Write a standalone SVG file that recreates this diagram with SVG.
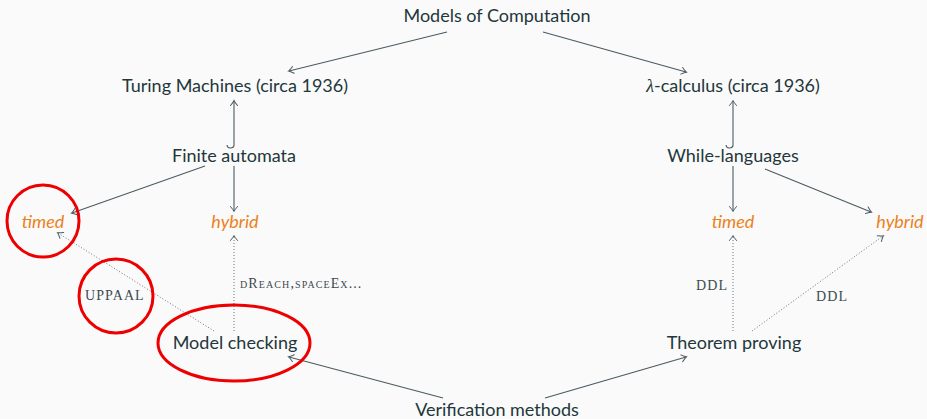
<svg xmlns="http://www.w3.org/2000/svg" width="927" height="419" viewBox="0 0 927 419">
<defs>
<marker id="to" viewBox="-6 -5 8 10" refX="0" refY="0" markerWidth="8" markerHeight="10" markerUnits="userSpaceOnUse" orient="auto">
<path d="M -4.5,-3.5 Q -1,-0.6 0.5,0 Q -1,0.6 -4.5,3.5" fill="none" stroke="#4b5b61" stroke-width="1" stroke-linecap="round"/>
</marker>
</defs>
<style>
.t{font-family:Lato,"Open Sans",sans-serif;font-size:18px;fill:#23373b;text-anchor:middle}
.o{font-family:Lato,"Open Sans",sans-serif;font-size:18px;fill:#eb811b;font-style:italic;text-anchor:middle}
.s{font-family:"Liberation Serif",serif;font-size:14px;fill:#3c4a50;font-variant:small-caps;letter-spacing:1.1px}
.m{font-family:"Liberation Serif",serif;font-style:italic}
.e{fill:none;stroke:#4b5b61;stroke-width:1.1;marker-end:url(#to)}
.d{fill:none;stroke:#6b777b;stroke-width:1;stroke-dasharray:1 2;marker-end:url(#to)}
.r{fill:none;stroke:#ee0000;stroke-width:3}
</style>
<rect width="927" height="419" fill="#fafafa"/>
<g id="connectors">
<line class="e" x1="447" y1="32" x2="289" y2="71"/>
<line class="e" x1="543" y1="32" x2="686" y2="72"/>
<path class="e" d="M 227,145 A 3.5,3.5 0 0 0 234,144 L 234,101"/>
<path class="e" d="M 726,145 A 3.5,3.5 0 0 0 733,144 L 733,101"/>
<line class="e" x1="205" y1="166" x2="72" y2="213"/>
<line class="e" x1="234" y1="166" x2="234" y2="211"/>
<line class="e" x1="733" y1="166" x2="733" y2="211"/>
<line class="e" x1="765" y1="169" x2="871" y2="212"/>
<line class="d" x1="214" y1="331" x2="58" y2="233"/>
<line class="d" x1="234" y1="331" x2="234" y2="236"/>
<line class="d" x1="733" y1="331" x2="733" y2="236"/>
<line class="d" x1="752" y1="331" x2="883" y2="236"/>
<line class="e" x1="443" y1="398" x2="289" y2="357"/>
<line class="e" x1="545" y1="398" x2="686" y2="357"/>
<text class="s" x="85" y="300">UPPAAL</text>
<text class="s" x="240" y="288">dReach,spaceEx...</text>
<text class="s" x="696" y="290">DDL</text>
<text class="s" x="816" y="301">DDL</text>
</g>
<g id="models"><text class="t" x="497" y="22">Models of Computation</text></g>
<g id="turing"><text class="t" x="235" y="92">Turing Machines (circa 1936)</text></g>
<g id="lambda"><text class="t" x="733" y="92"><tspan class="m">λ</tspan>-calculus (circa 1936)</text></g>
<g id="finite"><text class="t" x="234" y="162">Finite automata</text></g>
<g id="while"><text class="t" x="733" y="162">While-languages</text></g>
<g id="timed1"><text class="o" x="43" y="228">timed</text></g>
<g id="hybrid1"><text class="o" x="235" y="228">hybrid</text></g>
<g id="timed2"><text class="o" x="733" y="228">timed</text></g>
<g id="hybrid2"><text class="o" x="900" y="228">hybrid</text></g>
<g id="modelchecking"><text class="t" x="235" y="349">Model checking</text></g>
<g id="theorem"><text class="t" x="734" y="349">Theorem proving</text></g>
<g id="verification"><text class="t" x="497" y="416">Verification methods</text></g>
<g id="annotations">
<circle class="r" cx="43" cy="221" r="36"/>
<circle class="r" cx="116" cy="296" r="37"/>
<ellipse class="r" cx="234" cy="343" rx="76" ry="38"/>
</g>
</svg>
